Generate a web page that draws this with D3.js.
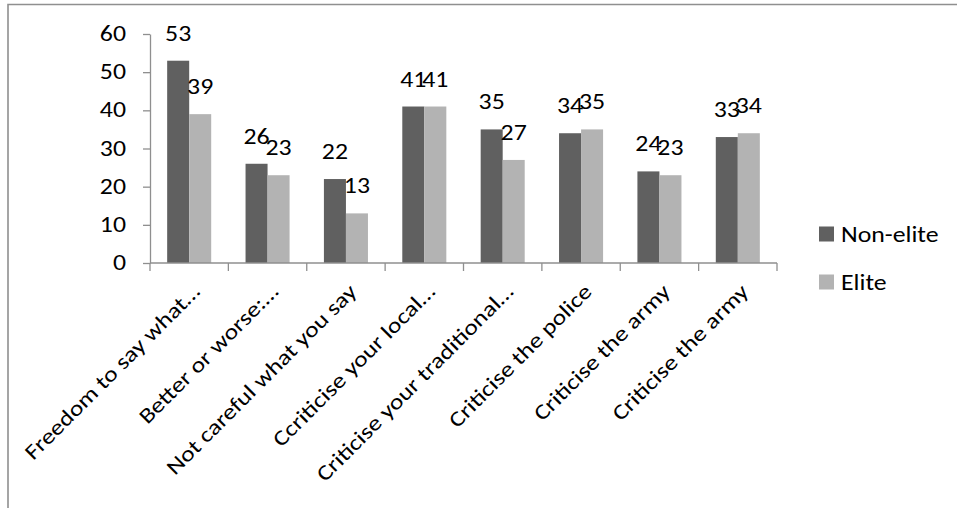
<!DOCTYPE html>
<html>
<head>
<meta charset="utf-8">
<script src="https://cdn.jsdelivr.net/npm/d3@7"></script>
<style>
  html, body { margin: 0; padding: 0; background: #fff; }
  svg { display: block; }
  text { font-family: Carlito, Calibri, Lato, "Open Sans", sans-serif; fill: #000; }
</style>
</head>
<body>
<svg id="chart" width="957" height="508"></svg>
<script>
// Survey categories and the two respondent groups (percent)
const categories = [
  "Freedom to say what…",
  "Better or worse:…",
  "Not careful what you say",
  "Ccriticise your local…",
  "Criticise your traditional…",
  "Criticise the police",
  "Criticise the army",
  "Criticise the army "
];
const seriesNames = ["Non-elite", "Elite"];
const nonElite = [53, 26, 22, 41, 35, 34, 24, 33];
const elite = [39, 23, 13, 41, 27, 35, 23, 34];
const yTicks = [0, 10, 20, 30, 40, 50, 60];
const colors = ["#606060", "#b3b3b3"];

const svg = d3.select("#chart");
const FS = 21.5, SX = 1.2;   // label size and horizontal glyph widening

// frame lines around the figure
svg.append("path")
  .attr("d", "M8,508V4.5H957")
  .attr("fill", "none").attr("stroke", "#8f8f8f").attr("stroke-width", 1.6);

const plotL = 150, plotR = 777, plotT = 34, plotB = 263;

const x = d3.scaleBand().domain(categories).range([plotL, plotR]).padding(0);
const x1 = d3.scaleBand().domain(seriesNames).range([0, x.bandwidth()])
  .paddingInner(0).paddingOuter(0.78);
const y = d3.scaleLinear().domain([0, 60]).range([plotB, plotT]);

function label(parent, px, py, str, anchor, rot) {
  const g = parent.append("g")
    .attr("transform", `translate(${px},${py})` + (rot ? ` rotate(${rot})` : "") + ` scale(${SX},1)`);
  return g.append("text").attr("text-anchor", anchor).attr("font-size", FS).text(str);
}

// y axis
const yAxis = d3.axisLeft(y).tickValues(yTicks).tickSize(7).tickSizeOuter(0).tickFormat("");
const yg = svg.append("g").attr("transform", `translate(${plotL},0)`).call(yAxis);
yg.selectAll("path, line").attr("stroke", "#8f8f8f").attr("stroke-width", 1.3);
yTicks.forEach(t => label(svg, 126, y(t) + 7, String(t), "end"));

// bars
const rows = categories.map((c, i) => ({ c, vals: [nonElite[i], elite[i]] }));
const groups = svg.selectAll("g.grp").data(rows).join("g")
  .attr("class", "grp").attr("transform", d => `translate(${x(d.c)},0)`);
groups.selectAll("rect").data(d => d.vals.map((v, k) => ({ k, v }))).join("rect")
  .attr("x", d => x1(seriesNames[d.k]))
  .attr("width", x1.bandwidth())
  .attr("y", d => y(d.v))
  .attr("height", d => y(0) - y(d.v))
  .attr("fill", d => colors[d.k]);

// value labels above bars
rows.forEach(r => {
  r.vals.forEach((v, k) => {
    const cx = x(r.c) + x1(seriesNames[k]) + x1.bandwidth() / 2;
    label(svg, cx, y(v) - 20, String(v), "middle");
  });
});

// x axis line and category boundary ticks
const xg = svg.append("g");
xg.append("line").attr("x1", plotL).attr("x2", plotR).attr("y1", plotB).attr("y2", plotB)
  .attr("stroke", "#8f8f8f").attr("stroke-width", 1.3);
const bounds = categories.map(c => x(c)).concat([x.range()[1]]);
xg.selectAll("line.tk").data(bounds).join("line").attr("class", "tk")
  .attr("x1", d => d).attr("x2", d => d).attr("y1", plotB).attr("y2", plotB + 8)
  .attr("stroke", "#8f8f8f").attr("stroke-width", 1.3);

// rotated category labels
categories.forEach(c => {
  label(svg, x(c) + x.bandwidth() / 2 + 12, plotB + 30, c.trim(), "end", -45);
});

// legend
seriesNames.forEach((s, k) => {
  const ly = 234 + k * 48;
  svg.append("rect").attr("x", 819).attr("y", ly - 7.5).attr("width", 15).attr("height", 15)
    .attr("fill", colors[k]);
  label(svg, 841, ly + 7.5, s, "start");
});
</script>
</body>
</html>
